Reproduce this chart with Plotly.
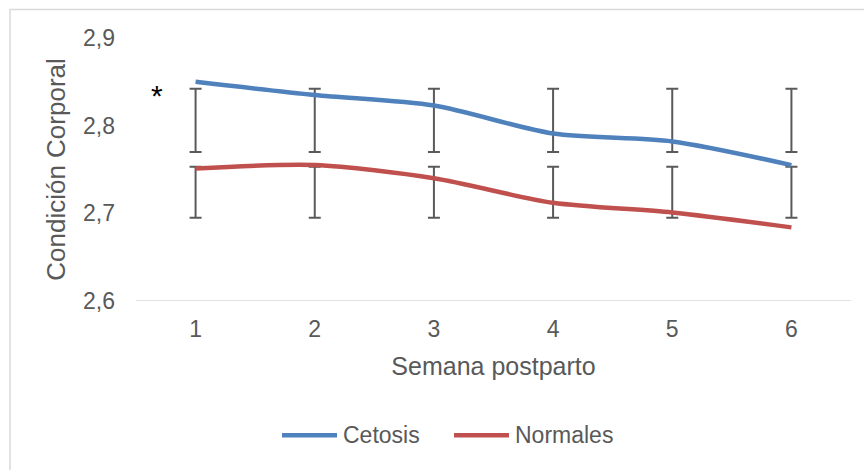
import plotly.graph_objects as go

# Weeks after calving
semanas = [1, 2, 3, 4, 5, 6]
semana_labels = ["1", "2", "3", "4", "5", "6"]

# Mean body condition score per group
cetosis = [2.850, 2.835, 2.823, 2.791, 2.782, 2.755]
normales = [2.751, 2.755, 2.740, 2.712, 2.701, 2.684]

# Error bar extents (low / high) for each group
cetosis_bar_low = [2.770, 2.770, 2.770, 2.770, 2.770, 2.770]
cetosis_bar_high = [2.842, 2.842, 2.842, 2.842, 2.842, 2.842]
normales_bar_low = [2.695, 2.695, 2.695, 2.695, 2.695, 2.695]
normales_bar_high = [2.753, 2.753, 2.753, 2.753, 2.753, 2.753]

y_ticks = [2.6, 2.7, 2.8, 2.9]

# Significance marker position
marca_x, marca_y = 0.68, 2.841

BLUE = "#4F81BD"
RED = "#C0504D"
TEXT = "#595959"
BAR = "#5A5A5A"
FONT = "Liberation Sans, Arial, sans-serif"

fig = go.Figure()

for low, high in [(cetosis_bar_low, cetosis_bar_high), (normales_bar_low, normales_bar_high)]:
    mid = [(a + b) / 2 for a, b in zip(low, high)]
    half = [(b - a) / 2 for a, b in zip(low, high)]
    fig.add_trace(go.Scatter(
        x=semanas, y=mid, mode="markers",
        marker=dict(size=1, opacity=0),
        error_y=dict(type="data", array=half, symmetric=True,
                     color=BAR, thickness=2, width=6),
        showlegend=False, hoverinfo="skip",
    ))

series = [("Cetosis", cetosis, BLUE), ("Normales", normales, RED)]
for name, vals, color in series:
    fig.add_trace(go.Scatter(
        x=semanas, y=vals, mode="lines", name=name,
        line=dict(color=color, width=4.5, shape="spline", smoothing=0.8),
        showlegend=False,
    ))

fig.add_annotation(x=marca_x, y=marca_y, text="*", showarrow=False,
                   font=dict(size=30, color="#000000", family=FONT),
                   xanchor="center", yanchor="middle", yshift=-6)

# Legend drawn below the plot: line sample followed by series name
legend_items = [(282, 337, 341), (454, 509, 513)]
legend_y = 436
W, H = 864, 470
L, R, T, B = 136, 13, 38, 168.5
pw, ph = W - L - R, H - T - B


def px_to_paper(px, py):
    return (px - L) / pw, (H - B - py) / ph


for (x0, x1, xt), (name, _, color) in zip(legend_items, series):
    a0, b0 = px_to_paper(x0, legend_y)
    a1, _ = px_to_paper(x1, legend_y)
    fig.add_shape(type="line", xref="paper", yref="paper",
                  x0=a0, x1=a1, y0=b0, y1=b0,
                  line=dict(color=color, width=4.5))
    at, _ = px_to_paper(xt, legend_y)
    fig.add_annotation(xref="paper", yref="paper", x=at, y=b0, text=name,
                       showarrow=False, xanchor="left", yanchor="middle",
                       font=dict(size=23, color=TEXT, family=FONT))

# Chart border
bx0, by0 = px_to_paper(10, 9.5)
bx1, by1 = px_to_paper(880, 480)
fig.add_shape(type="rect", xref="paper", yref="paper",
              x0=bx0, x1=bx1, y0=by1, y1=by0,
              line=dict(color="#D9D9D9", width=1.5), fillcolor="rgba(0,0,0,0)")

fig.update_layout(
    width=W, height=H,
    margin=dict(l=L, r=R, t=T, b=B),
    paper_bgcolor="white", plot_bgcolor="white",
    separators=",.",
    font=dict(family=FONT, color=TEXT, size=23),
    xaxis=dict(
        range=[0.5, 6.5], tickvals=semanas, ticktext=semana_labels,
        showgrid=False, zeroline=False, showline=False,
        ticks="", ticklabelstandoff=12,
        tickfont=dict(size=23, color=TEXT),
        title=dict(text="Semana postparto", font=dict(size=25, color=TEXT), standoff=16),
    ),
    yaxis=dict(
        range=[2.6, 2.9], tickvals=y_ticks, tickformat=".1f",
        showgrid=False, zeroline=False, showline=False,
        ticks="", ticklabelstandoff=20,
        tickfont=dict(size=23, color=TEXT),
        title=dict(text="Condición Corporal", font=dict(size=26, color=TEXT), standoff=9),
    ),
    showlegend=False,
)

# Horizontal axis line at the bottom of the plot
fig.add_shape(type="line", xref="paper", yref="y", x0=0, x1=1, y0=2.6, y1=2.6,
              line=dict(color="#D9D9D9", width=1.5), layer="below")

fig.write_html("out.html")
